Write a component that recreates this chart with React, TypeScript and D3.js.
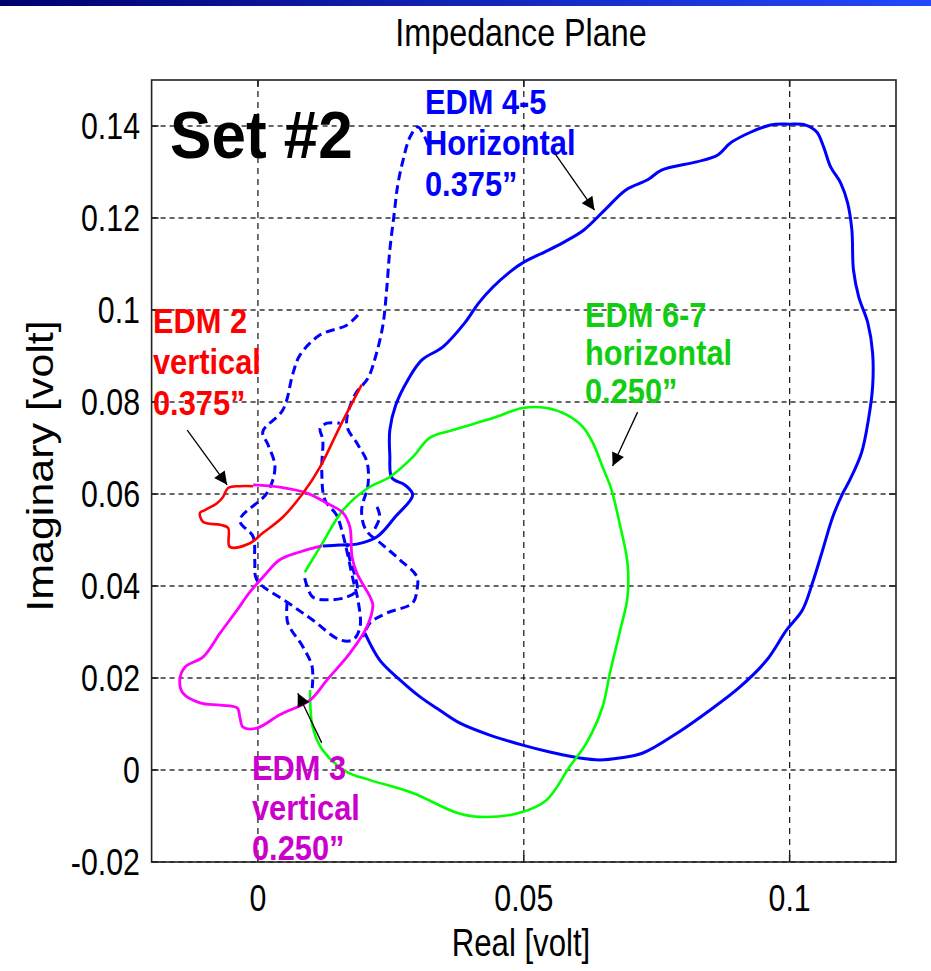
import React from "react";
import * as d3 from "d3";

const xTicks = [0, 0.05, 0.1];
const xTickLabels = ["0", "0.05", "0.1"];
const yTicks = [-0.02, 0, 0.02, 0.04, 0.06, 0.08, 0.1, 0.12, 0.14];
const yTickLabels = ["-0.02", "0", "0.02", "0.04", "0.06", "0.08", "0.1", "0.12", "0.14"];

const edm45Solid: [number, number][] = [
  [0.0122, 0.0487], [0.0154, 0.0489], [0.0186, 0.0491], [0.0224, 0.0507], [0.0258, 0.055],
  [0.0291, 0.0598], [0.0276, 0.062], [0.0252, 0.0635], [0.0248, 0.0685], [0.0248, 0.0739],
  [0.0259, 0.0793], [0.0282, 0.0848], [0.0308, 0.0891], [0.0348, 0.092], [0.0389, 0.0972],
  [0.0415, 0.1015], [0.0442, 0.105], [0.0474, 0.1083], [0.05, 0.1104], [0.0539, 0.1126],
  [0.0573, 0.1146], [0.0613, 0.1174], [0.0652, 0.1217], [0.0692, 0.1261], [0.0733, 0.1283],
  [0.0759, 0.1304], [0.0825, 0.1322], [0.0865, 0.1337], [0.0891, 0.1365], [0.0964, 0.1402],
  [0.1, 0.1404], [0.103, 0.1402], [0.1051, 0.1387], [0.1064, 0.1354], [0.1077, 0.1311],
  [0.1096, 0.1276], [0.1109, 0.1233], [0.1117, 0.1174], [0.112, 0.1087], [0.113, 0.1028],
  [0.1147, 0.0972], [0.1156, 0.0907], [0.1156, 0.0833], [0.1148, 0.0761], [0.1135, 0.0689],
  [0.1113, 0.063], [0.11, 0.0602], [0.1081, 0.055], [0.1062, 0.0478], [0.1043, 0.0407],
  [0.1024, 0.0348], [0.0994, 0.0304], [0.0957, 0.0239], [0.0906, 0.018], [0.085, 0.013],
  [0.0788, 0.008], [0.0724, 0.0037], [0.068, 0.0026], [0.0643, 0.0022], [0.0605, 0.0026],
  [0.0549, 0.0039], [0.0498, 0.0054], [0.0436, 0.0076], [0.038, 0.0102], [0.0342, 0.013],
  [0.0305, 0.0159], [0.0267, 0.0196], [0.0229, 0.0239], [0.0201, 0.0298],
];

const edm45DashA: [number, number][] = [
  [0.032, 0.1359], [0.0301, 0.1398], [0.0286, 0.1376], [0.0273, 0.1326], [0.0263, 0.1272],
  [0.0256, 0.1207], [0.0248, 0.113], [0.0242, 0.1043], [0.0235, 0.0967], [0.0222, 0.0902],
  [0.0207, 0.0852], [0.0182, 0.0815], [0.0167, 0.075], [0.0188, 0.0707], [0.0205, 0.067],
  [0.0207, 0.062], [0.0195, 0.0565], [0.0203, 0.0522], [0.0235, 0.0489], [0.0267, 0.0457],
  [0.0299, 0.042], [0.0299, 0.0391], [0.0291, 0.0363], [0.0242, 0.0341], [0.0211, 0.032],
  [0.0197, 0.0289],
];

const edm45DashB: [number, number][] = [
  [0.0188, 0.0989], [0.0167, 0.0967], [0.0117, 0.0946], [0.0079, 0.0902], [0.0066, 0.0863],
  [0.0047, 0.0783], [0.0009, 0.0735], [0.0019, 0.0707], [0.0032, 0.0659], [0.0017, 0.0602],
  [-0.0034, 0.0543], [-0.0009, 0.0507], [-0.0006, 0.0457], [-0.0002, 0.0413], [0.0055, 0.0365],
  [0.0103, 0.0326], [0.0154, 0.0283], [0.0179, 0.0283], [0.0192, 0.0311], [0.0188, 0.037],
  [0.0179, 0.0413], [0.0169, 0.0467], [0.016, 0.0511], [0.0148, 0.0554], [0.0126, 0.0587],
  [0.012, 0.0652], [0.0122, 0.0717], [0.0117, 0.0743], [0.013, 0.0754], [0.0154, 0.0754],
];

const edm45DashC: [number, number][] = [
  [0.0055, 0.0365], [0.0056, 0.032], [0.0085, 0.0267], [0.0102, 0.0224], [0.0102, 0.0178],
];

const edm45DashD: [number, number][] = [
  [0.0088, 0.0417], [0.0103, 0.0376], [0.0135, 0.037], [0.0167, 0.0376], [0.0186, 0.0391],
  [0.0182, 0.0424], [0.0173, 0.0457], [0.0167, 0.0493],
];

const edm45DashE: [number, number][] = [
  [0.0224, 0.0572], [0.0229, 0.055], [0.0216, 0.0517],
];

const edm67: [number, number][] = [
  [0.0088, 0.043], [0.0117, 0.0485], [0.016, 0.0565], [0.0207, 0.0613], [0.0248, 0.0637],
  [0.0291, 0.068], [0.0323, 0.0722], [0.0367, 0.0739], [0.0442, 0.0765], [0.0498, 0.0787],
  [0.0543, 0.0787], [0.0581, 0.0772], [0.0611, 0.0746], [0.063, 0.0711], [0.0648, 0.0659],
  [0.0665, 0.0609], [0.068, 0.0537], [0.0695, 0.045], [0.0695, 0.0376], [0.068, 0.0298],
  [0.0662, 0.0211], [0.0648, 0.0137], [0.0618, 0.0059], [0.0586, 0.0007], [0.0543, -0.0065],
  [0.0492, -0.0093], [0.0417, -0.0102], [0.0374, -0.0093], [0.0291, -0.005], [0.0211, -0.0022],
  [0.0167, -0.0004], [0.0122, 0.0043], [0.0103, 0.0093], [0.0098, 0.0174],
];

const edm3: [number, number][] = [
  [0.012, 0.0487], [0.0079, 0.0474], [0.0041, 0.0457], [0.0013, 0.0424], [-0.0015, 0.0387],
  [-0.0039, 0.0348], [-0.0071, 0.0298], [-0.0103, 0.0246], [-0.0137, 0.0224], [-0.0147, 0.0196],
  [-0.0141, 0.0167], [-0.0109, 0.0146], [-0.0071, 0.0141], [-0.0039, 0.0135], [-0.0034, 0.0115],
  [-0.0028, 0.0093], [-0.0002, 0.0091], [0.0041, 0.012], [0.0098, 0.0152], [0.013, 0.0196],
  [0.0173, 0.0254], [0.0205, 0.0311], [0.0216, 0.0359], [0.0211, 0.0376], [0.0186, 0.0428],
  [0.0177, 0.0463], [0.0173, 0.0528], [0.016, 0.0559], [0.013, 0.058], [0.0092, 0.0602],
  [0.0041, 0.0615], [-0.0009, 0.062],
];

const edm2: [number, number][] = [
  [0.0195, 0.0837], [0.0154, 0.0746], [0.0117, 0.0659], [0.0085, 0.0602], [0.0047, 0.055],
  [0.0009, 0.0515], [-0.0015, 0.0493], [-0.0053, 0.0485], [-0.0056, 0.0526], [-0.0071, 0.0533],
  [-0.0103, 0.0539], [-0.0109, 0.0559], [-0.01, 0.0565], [-0.0077, 0.058], [-0.0066, 0.0593],
  [-0.0056, 0.0613], [-0.0034, 0.0617], [-0.0009, 0.0617],
];

// arrows: [from, to] in data units
const arrows: { from: [number, number]; to: [number, number] }[] = [
  { from: [-0.0133, 0.0739], to: [-0.0058, 0.062] },
  { from: [0.0558, 0.1341], to: [0.0633, 0.1217] },
  { from: [0.0714, 0.0778], to: [0.0667, 0.0661] },
  { from: [0.012, 0.0059], to: [0.0075, 0.0167] },
];

const FONT = "'Liberation Sans', Arial, Helvetica, sans-serif";

const Label = ({ x, y, lines, color, dy = 41 }: { x: number; y: number; lines: string[]; color: string; dy?: number }) => (
  <g transform={`translate(${x},${y}) scale(0.88,1)`}>
    {lines.map((l, i) => (
      <text key={i} x={0} y={i * dy} fill={color} fontSize={35} fontWeight="bold" fontFamily={FONT}>
        {l}
      </text>
    ))}
  </g>
);

const App = () => {
  const width = 931;
  const height = 971;
  const left = 151.6, right = 896, top = 80, bottom = 862;

  const x = d3.scaleLinear().domain([-0.02, 0.12]).range([left, right]);
  const y = d3.scaleLinear().domain([-0.02, 0.15]).range([bottom, top]);

  const line = d3
    .line<[number, number]>()
    .x(d => x(d[0]))
    .y(d => y(d[1]))
    .curve(d3.curveCatmullRom.alpha(0.5));

  const tick = 7;
  const dashed = [edm45DashA, edm45DashB, edm45DashC, edm45DashD, edm45DashE];

  return (
    <svg
      width={width}
      height={height}
      style={{ position: "absolute", left: 0, top: 0, background: "#fff" }}
      xmlns="http://www.w3.org/2000/svg"
    >
      <defs>
        <linearGradient id="hdr" x1="0" x2="1" y1="0" y2="0">
          <stop offset="0" stopColor="#00006e" />
          <stop offset="1" stopColor="#2448ff" />
        </linearGradient>
        <clipPath id="plot">
          <rect x={left} y={top} width={right - left} height={bottom - top} />
        </clipPath>
        <marker id="ah" viewBox="0 0 10 10" refX="10" refY="5" markerWidth="17" markerHeight="13"
          markerUnits="userSpaceOnUse" orient="auto">
          <path d="M0,0 L10,5 L0,10 z" fill="#000" />
        </marker>
      </defs>

      <rect x={0} y={0} width={width} height={height} fill="#fff" />
      <rect x={0} y={0} width={width} height={6} fill="url(#hdr)" />

      {/* title */}
      <text transform={`translate(521,46) scale(0.85,1)`} textAnchor="middle" fontSize={38} fontFamily={FONT} fill="#000">
        Impedance Plane
      </text>

      {/* grid */}
      <g>
        {yTicks.map(t => (
          <line key={"gy" + t} x1={left} x2={right} y1={y(t)} y2={y(t)} stroke="#333" strokeWidth={1.5} strokeDasharray="5,4" />
        ))}
        {xTicks.map(t => (
          <line key={"gx" + t} x1={x(t)} x2={x(t)} y1={top} y2={bottom} stroke="#111" strokeWidth={1.2} strokeDasharray="6,5" />
        ))}
      </g>

      {/* curves */}
      <g clipPath="url(#plot)" fill="none" strokeLinejoin="round">
        {dashed.map((d, i) => (
          <path key={"d" + i} d={line(d) ?? ""} stroke="#0000ff" strokeWidth={3} strokeDasharray="9,5" />
        ))}
        <path d={line(edm45Solid) ?? ""} stroke="#0000ff" strokeWidth={3} />
        <path d={line(edm67) ?? ""} stroke="#00ff00" strokeWidth={2.6} />
        <path d={line(edm3) ?? ""} stroke="#ff00ff" strokeWidth={2.8} />
        <path d={line(edm2) ?? ""} stroke="#ff0000" strokeWidth={2.6} />
      </g>

      {/* axes box and ticks */}
      <rect x={left} y={top} width={right - left} height={bottom - top} fill="none" stroke="#222" strokeWidth={1.6} />
      {yTicks.map(t => (
        <g key={"ty" + t} stroke="#222" strokeWidth={1.6}>
          <line x1={left} x2={left + tick} y1={y(t)} y2={y(t)} />
          <line x1={right} x2={right - tick} y1={y(t)} y2={y(t)} />
        </g>
      ))}
      {xTicks.map(t => (
        <g key={"tx" + t} stroke="#222" strokeWidth={1.6}>
          <line x1={x(t)} x2={x(t)} y1={bottom} y2={bottom - tick} />
          <line x1={x(t)} x2={x(t)} y1={top} y2={top + tick} />
        </g>
      ))}

      {/* tick labels */}
      {yTicks.map((t, i) => (
        <text key={"ly" + t} transform={`translate(140,${y(t) + 13}) scale(0.82,1)`} textAnchor="end"
          fontSize={37} fontFamily={FONT} fill="#000">
          {yTickLabels[i]}
        </text>
      ))}
      {xTicks.map((t, i) => (
        <text key={"lx" + t} transform={`translate(${x(t)},911) scale(0.82,1)`} textAnchor="middle"
          fontSize={37} fontFamily={FONT} fill="#000">
          {xTickLabels[i]}
        </text>
      ))}

      {/* axis labels */}
      <text transform="translate(521,956) scale(0.82,1)" textAnchor="middle" fontSize={38} fontFamily={FONT} fill="#000">
        Real [volt]
      </text>
      <text transform="translate(53,466) scale(0.85,1) rotate(-90)" textAnchor="middle" fontSize={43} fontFamily={FONT} fill="#000">
        Imaginary [volt]
      </text>

      {/* annotations */}
      <text transform="translate(170,158) scale(0.94,1)" fontSize={66} fontWeight="bold" fontFamily={FONT} fill="#000">
        Set #2
      </text>
      <Label x={425} y={114} lines={["EDM 4-5", "Horizontal", "0.375\u201D"]} color="#0000ff" />
      <Label x={153} y={333} lines={["EDM 2", "vertical", "0.375\u201D"]} color="#ff0000" />
      <Label x={585} y={327} lines={["EDM 6-7", "horizontal", "0.250\u201D"]} color="#11cc11" dy={38} />
      <Label x={252} y={780} lines={["EDM 3", "vertical", "0.250\u201D"]} color="#cc00cc" dy={40} />

      {arrows.map((a, i) => (
        <line key={"ar" + i} x1={x(a.from[0])} y1={y(a.from[1])} x2={x(a.to[0])} y2={y(a.to[1])}
          stroke="#000" strokeWidth={1.3} markerEnd="url(#ah)" />
      ))}
    </svg>
  );
};

export default App;
